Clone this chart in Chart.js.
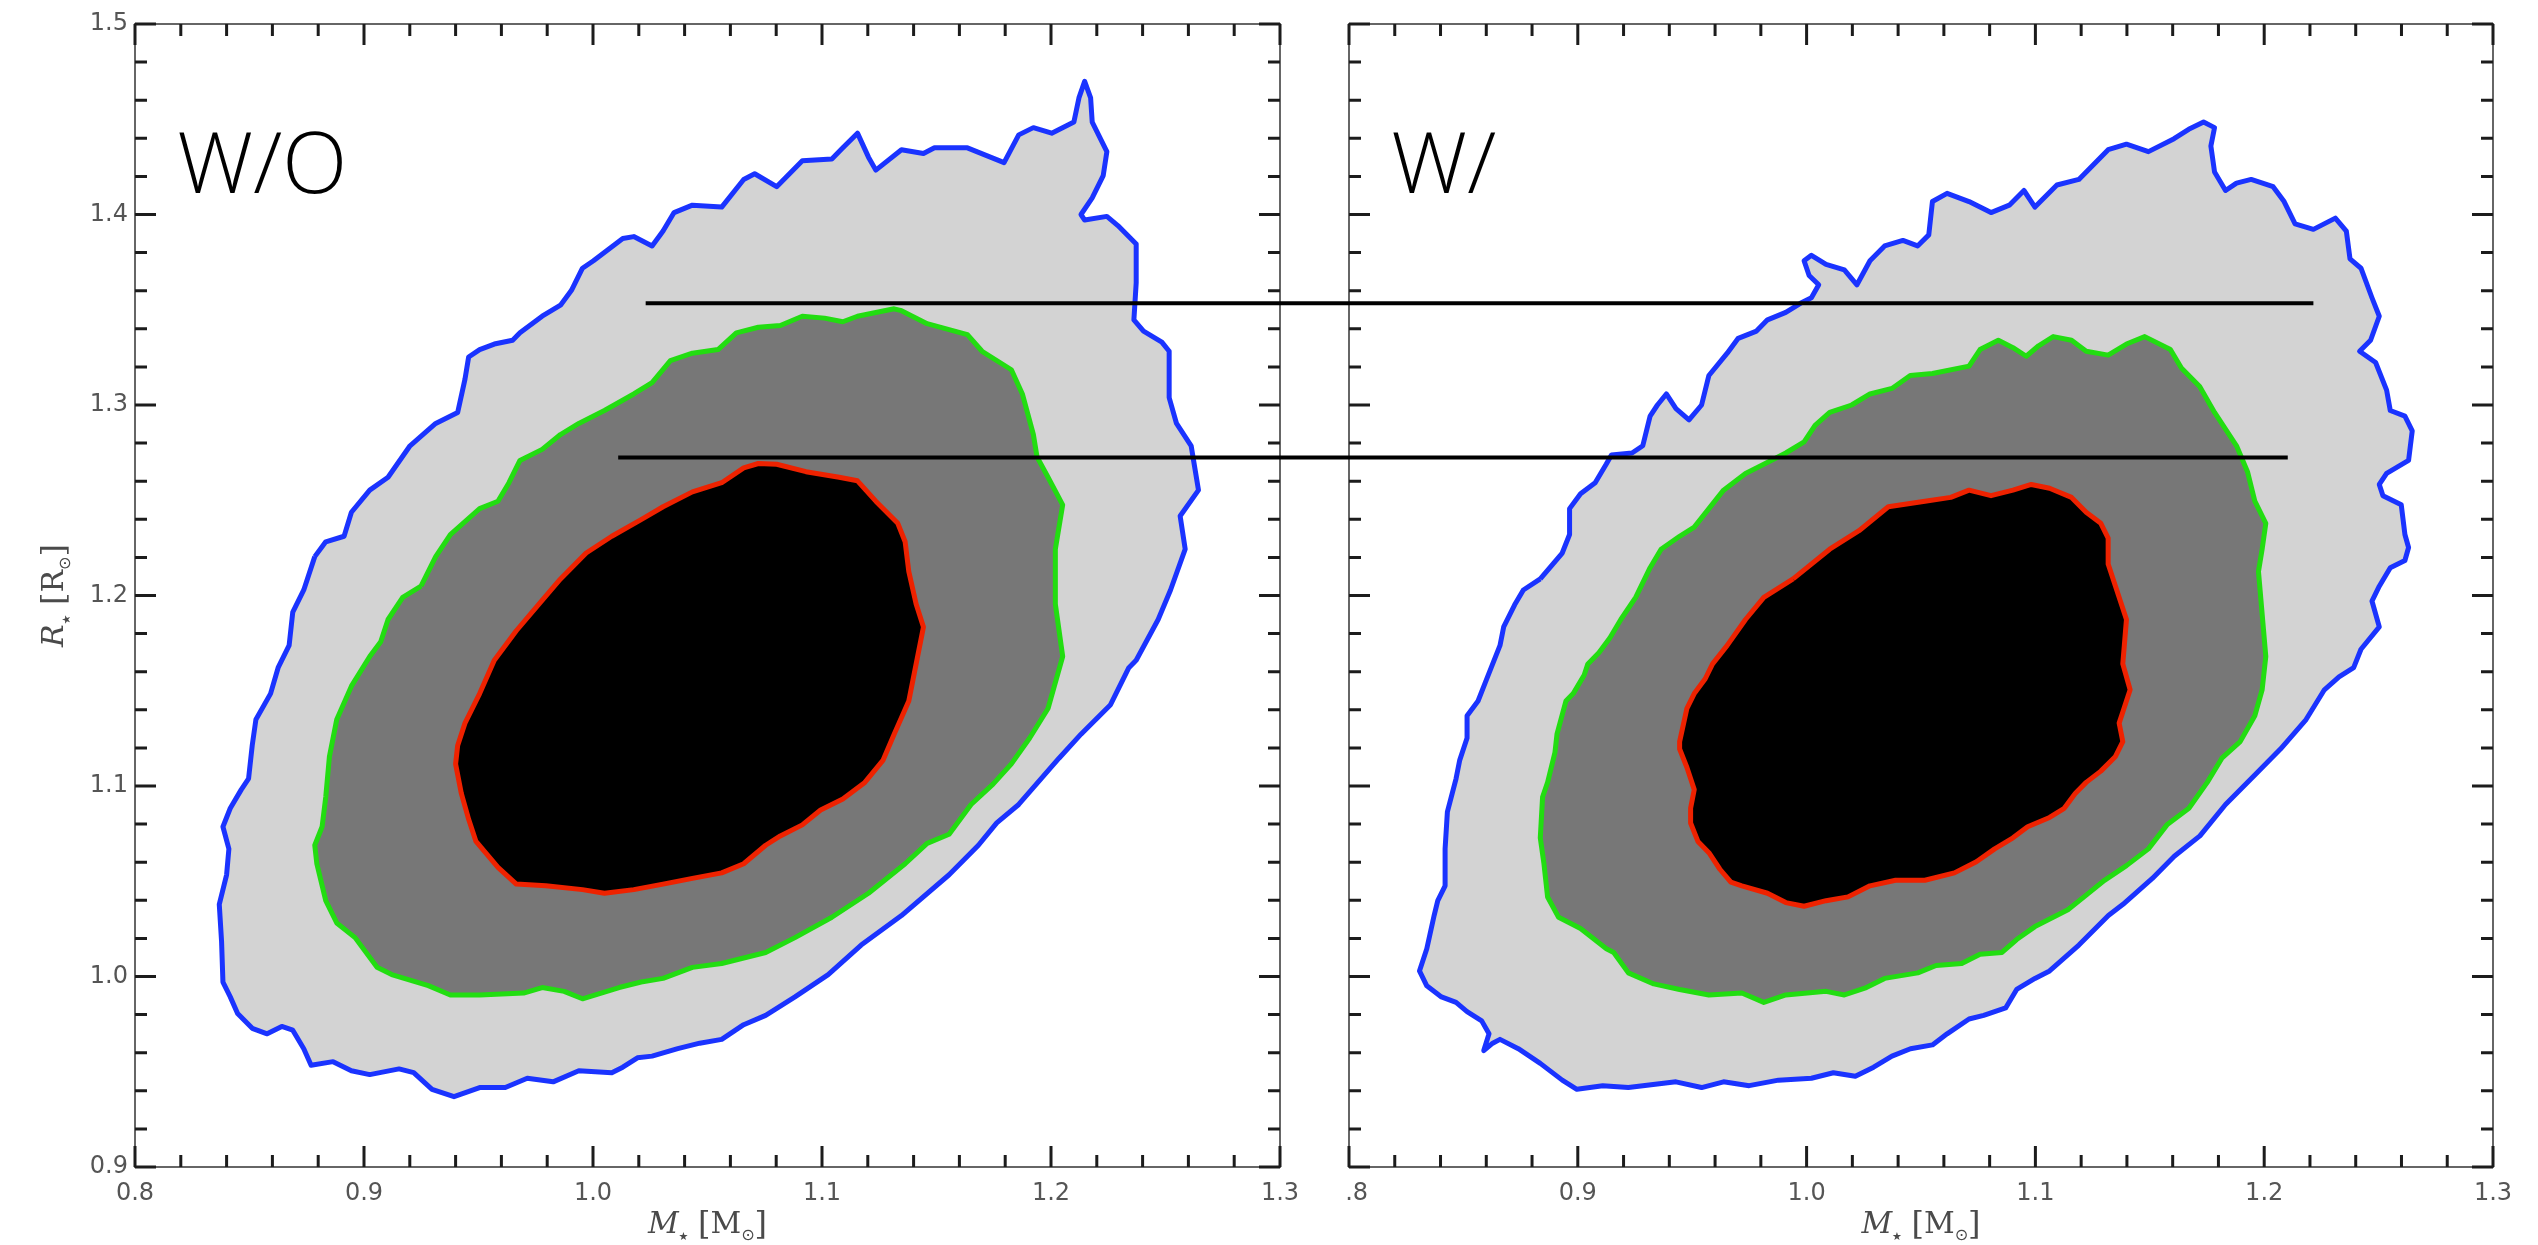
<!DOCTYPE html>
<html lang="en">
<head>
<meta charset="UTF-8">
<title>Stellar mass and radius, W/O and W/</title>
<script src="https://cdn.jsdelivr.net/npm/chart.js@4.4.1/dist/chart.umd.min.js"></script>
<style>
  html, body { margin: 0; padding: 0; background: #fff; }
  #wrap { position: relative; width: 2538px; height: 1245px; overflow: hidden; }
  canvas { position: absolute; top: 0; }
</style>
</head>
<body>
<div id="wrap">
  <canvas id="left" width="1345" height="1245" style="left:0"></canvas>
  <canvas id="right" width="1193" height="1245" style="left:1345px"></canvas>
</div>
<script>
// axis ranges and ticks (shared by both panels)
const xRange = [0.8, 1.3]
const yRange = [0.9, 1.5]
const majorStep = 0.1
const minorStep = 0.02
const panelLabels = ['W/O', 'W/']

// contour outlines as [M, R] pairs
const leftOuter = [[0.8785,1.2204],[0.8833,1.2282],[0.8913,1.2311],[0.8945,1.2437],[0.9025,1.2553],[0.9105,1.2621],[0.9201,1.2786],[0.9313,1.2903],[0.9409,1.2961],[0.9441,1.3136],[0.9457,1.3252],[0.9505,1.3291],[0.9569,1.3320],[0.9649,1.3340],[0.9681,1.3379],[0.9778,1.3466],[0.9858,1.3524],[0.9906,1.3602],[0.9954,1.3718],[1.0002,1.3757],[1.0130,1.3874],[1.0178,1.3884],[1.0258,1.3835],[1.0306,1.3913],[1.0354,1.4010],[1.0434,1.4049],[1.0562,1.4039],[1.0658,1.4184],[1.0706,1.4214],[1.0802,1.4146],[1.0914,1.4282],[1.1043,1.4291],[1.1091,1.4350],[1.1155,1.4427],[1.1203,1.4301],[1.1235,1.4233],[1.1347,1.4340],[1.1443,1.4320],[1.1491,1.4350],[1.1635,1.4350],[1.1795,1.4272],[1.1859,1.4418],[1.1923,1.4456],[1.2003,1.4427],[1.2100,1.4485],[1.2122,1.4612],[1.2147,1.4699],[1.2173,1.4612],[1.2180,1.4485],[1.2244,1.4330],[1.2228,1.4204],[1.2180,1.4087],[1.2131,1.4000],[1.2147,1.3971],[1.2244,1.3990],[1.2292,1.3942],[1.2372,1.3845],[1.2372,1.3641],[1.2362,1.3447],[1.2404,1.3388],[1.2484,1.3330],[1.2516,1.3282],[1.2516,1.3039],[1.2548,1.2903],[1.2612,1.2786],[1.2644,1.2553],[1.2564,1.2417],[1.2586,1.2243],[1.2522,1.2029],[1.2468,1.1874],[1.2372,1.1660],[1.2340,1.1621],[1.2260,1.1427],[1.2131,1.1272],[1.2035,1.1146],[1.1859,1.0903],[1.1763,1.0806],[1.1683,1.0689],[1.1555,1.0534],[1.1347,1.0320],[1.1171,1.0165],[1.1027,1.0010],[1.0882,0.9893],[1.0754,0.9796],[1.0658,0.9747],[1.0562,0.9670],[1.0466,0.9650],[1.0370,0.9621],[1.0258,0.9582],[1.0194,0.9573],[1.0130,0.9524],[1.0082,0.9495],[0.9938,0.9505],[0.9826,0.9447],[0.9713,0.9466],[0.9617,0.9417],[0.9505,0.9417],[0.9393,0.9369],[0.9297,0.9408],[0.9217,0.9495],[0.9153,0.9515],[0.9025,0.9485],[0.8945,0.9505],[0.8865,0.9553],[0.8769,0.9534],[0.8737,0.9621],[0.8689,0.9718],[0.8641,0.9738],[0.8577,0.9699],[0.8512,0.9728],[0.8448,0.9806],[0.8416,0.9893],[0.8384,0.9971],[0.8378,1.0184],[0.8368,1.0379],[0.8400,1.0534],[0.8410,1.0670],[0.8384,1.0786],[0.8416,1.0883],[0.8464,1.0981],[0.8496,1.1039],[0.8512,1.1214],[0.8528,1.1349],[0.8592,1.1485],[0.8625,1.1621],[0.8673,1.1738],[0.8689,1.1913],[0.8737,1.2029]]
const leftMiddle = [[0.9249,1.2049],[0.9313,1.2204],[0.9377,1.2320],[0.9505,1.2456],[0.9585,1.2495],[0.9633,1.2592],[0.9681,1.2709],[0.9778,1.2767],[0.9858,1.2845],[0.9938,1.2903],[1.0050,1.2971],[1.0178,1.3058],[1.0258,1.3117],[1.0338,1.3233],[1.0434,1.3272],[1.0546,1.3291],[1.0626,1.3379],[1.0722,1.3408],[1.0818,1.3417],[1.0914,1.3466],[1.1011,1.3456],[1.1091,1.3437],[1.1155,1.3466],[1.1315,1.3505],[1.1347,1.3495],[1.1459,1.3427],[1.1635,1.3369],[1.1699,1.3282],[1.1827,1.3185],[1.1875,1.3058],[1.1923,1.2845],[1.1939,1.2728],[1.1987,1.2621],[1.2051,1.2476],[1.2019,1.2243],[1.2019,1.1955],[1.2051,1.1680],[1.1987,1.1407],[1.1907,1.1252],[1.1827,1.1116],[1.1747,1.1010],[1.1651,1.0903],[1.1555,1.0747],[1.1459,1.0699],[1.1363,1.0592],[1.1203,1.0437],[1.1043,1.0311],[1.0882,1.0204],[1.0754,1.0126],[1.0562,1.0068],[1.0434,1.0048],[1.0306,0.9990],[1.0210,0.9971],[1.0114,0.9942],[0.9954,0.9883],[0.9874,0.9922],[0.9778,0.9942],[0.9697,0.9913],[0.9505,0.9903],[0.9377,0.9903],[0.9281,0.9952],[0.9121,1.0010],[0.9057,1.0048],[0.8961,1.0204],[0.8881,1.0281],[0.8833,1.0398],[0.8794,1.0592],[0.8785,1.0689],[0.8817,1.0786],[0.8833,1.0942],[0.8849,1.1155],[0.8881,1.1349],[0.8945,1.1524],[0.9025,1.1680],[0.9073,1.1757],[0.9105,1.1874],[0.9169,1.1990]]
const leftInner = [[0.9858,1.2087],[0.9970,1.2223],[1.0082,1.2311],[1.0210,1.2398],[1.0306,1.2466],[1.0434,1.2544],[1.0562,1.2592],[1.0658,1.2670],[1.0722,1.2693],[1.0802,1.2689],[1.0930,1.2650],[1.1075,1.2621],[1.1155,1.2602],[1.1235,1.2495],[1.1331,1.2379],[1.1363,1.2282],[1.1379,1.2126],[1.1411,1.1955],[1.1443,1.1835],[1.1411,1.1641],[1.1379,1.1446],[1.1315,1.1272],[1.1267,1.1136],[1.1187,1.1019],[1.1091,1.0932],[1.0994,1.0874],[1.0914,1.0796],[1.0818,1.0738],[1.0754,1.0689],[1.0658,1.0592],[1.0562,1.0544],[1.0434,1.0515],[1.0306,1.0485],[1.0178,1.0456],[1.0050,1.0437],[0.9954,1.0456],[0.9794,1.0476],[0.9665,1.0485],[0.9585,1.0573],[0.9489,1.0709],[0.9457,1.0825],[0.9425,1.0961],[0.9400,1.1116],[0.9409,1.1213],[0.9441,1.1330],[0.9505,1.1485],[0.9569,1.1660],[0.9665,1.1815],[0.9761,1.1951]]

const rightOuter = [[0.8836,1.2087],[0.8932,1.2223],[0.8964,1.2320],[0.8964,1.2456],[0.9012,1.2534],[0.9076,1.2592],[0.9124,1.2689],[0.9147,1.2738],[0.9237,1.2748],[0.9284,1.2786],[0.9316,1.2942],[0.9348,1.3000],[0.9387,1.3058],[0.9429,1.2981],[0.9486,1.2922],[0.9541,1.3000],[0.9573,1.3155],[0.9653,1.3272],[0.9701,1.3350],[0.9781,1.3388],[0.9829,1.3447],[0.9909,1.3486],[0.9973,1.3534],[1.0021,1.3563],[1.0053,1.3631],[1.0011,1.3680],[0.9989,1.3757],[1.0021,1.3786],[1.0085,1.3738],[1.0165,1.3709],[1.0220,1.3631],[1.0277,1.3757],[1.0341,1.3835],[1.0421,1.3864],[1.0485,1.3835],[1.0534,1.3893],[1.0550,1.4068],[1.0614,1.4111],[1.0710,1.4068],[1.0806,1.4010],[1.0886,1.4049],[1.0950,1.4126],[1.0998,1.4039],[1.1094,1.4155],[1.1190,1.4184],[1.1318,1.4340],[1.1398,1.4369],[1.1494,1.4330],[1.1606,1.4398],[1.1670,1.4447],[1.1735,1.4485],[1.1783,1.4456],[1.1767,1.4359],[1.1783,1.4223],[1.1831,1.4126],[1.1879,1.4165],[1.1943,1.4184],[1.2039,1.4146],[1.2087,1.4068],[1.2135,1.3951],[1.2215,1.3922],[1.2311,1.3981],[1.2359,1.3913],[1.2375,1.3767],[1.2423,1.3718],[1.2471,1.3563],[1.2503,1.3466],[1.2465,1.3340],[1.2417,1.3282],[1.2487,1.3223],[1.2535,1.3078],[1.2551,1.2971],[1.2615,1.2942],[1.2647,1.2864],[1.2631,1.2709],[1.2535,1.2641],[1.2503,1.2583],[1.2519,1.2524],[1.2599,1.2476],[1.2615,1.2320],[1.2631,1.2252],[1.2615,1.2184],[1.2551,1.2146],[1.2503,1.2049],[1.2471,1.1971],[1.2503,1.1835],[1.2423,1.1718],[1.2391,1.1621],[1.2327,1.1573],[1.2263,1.1505],[1.2183,1.1349],[1.2071,1.1194],[1.1959,1.1058],[1.1831,1.0903],[1.1719,1.0738],[1.1607,1.0631],[1.1511,1.0515],[1.1383,1.0379],[1.1319,1.0320],[1.1190,1.0165],[1.1062,1.0029],[1.0998,0.9990],[1.0918,0.9932],[1.0870,0.9835],[1.0774,0.9796],[1.0710,0.9777],[1.0614,0.9699],[1.0550,0.9641],[1.0454,0.9621],[1.0373,0.9582],[1.0293,0.9524],[1.0213,0.9476],[1.0117,0.9495],[1.0021,0.9466],[0.9877,0.9456],[0.9749,0.9427],[0.9637,0.9447],[0.9541,0.9417],[0.9429,0.9447],[0.9221,0.9417],[0.9109,0.9427],[0.8996,0.9408],[0.8932,0.9456],[0.8836,0.9544],[0.8740,0.9621],[0.8660,0.9670],[0.8628,0.9650],[0.8589,0.9611],[0.8612,0.9699],[0.8580,0.9767],[0.8516,0.9816],[0.8468,0.9864],[0.8404,0.9893],[0.8340,0.9951],[0.8308,1.0029],[0.8340,1.0146],[0.8372,1.0320],[0.8388,1.0398],[0.8420,1.0476],[0.8420,1.0670],[0.8430,1.0864],[0.8468,1.1039],[0.8484,1.1136],[0.8516,1.1252],[0.8516,1.1369],[0.8564,1.1446],[0.8596,1.1544],[0.8628,1.1641],[0.8660,1.1738],[0.8676,1.1835],[0.8724,1.1951],[0.8762,1.2029]]
const rightMiddle = [[0.9316,1.2146],[0.9364,1.2243],[0.9445,1.2311],[0.9509,1.2359],[0.9573,1.2456],[0.9637,1.2553],[0.9733,1.2641],[0.9813,1.2689],[0.9909,1.2748],[0.9989,1.2806],[1.0037,1.2893],[1.0101,1.2961],[1.0197,1.3000],[1.0277,1.3058],[1.0373,1.3087],[1.0453,1.3155],[1.0550,1.3165],[1.0710,1.3204],[1.0758,1.3291],[1.0838,1.3340],[1.0902,1.3301],[1.0960,1.3256],[1.1014,1.3311],[1.1078,1.3359],[1.1158,1.3340],[1.1222,1.3282],[1.1318,1.3262],[1.1398,1.3320],[1.1478,1.3359],[1.1590,1.3291],[1.1638,1.3194],[1.1718,1.3097],[1.1783,1.2961],[1.1879,1.2786],[1.1927,1.2650],[1.1959,1.2495],[1.2007,1.2379],[1.1991,1.2243],[1.1975,1.2126],[1.1988,1.1945],[1.2007,1.1680],[1.1991,1.1505],[1.1959,1.1369],[1.1895,1.1233],[1.1815,1.1146],[1.1751,1.1019],[1.1671,1.0883],[1.1575,1.0796],[1.1494,1.0670],[1.1398,1.0582],[1.1302,1.0505],[1.1222,1.0427],[1.1142,1.0350],[1.0998,1.0262],[1.0918,1.0194],[1.0854,1.0126],[1.0758,1.0117],[1.0678,1.0068],[1.0566,1.0058],[1.0486,1.0019],[1.0341,0.9990],[1.0261,0.9942],[1.0165,0.9903],[1.0085,0.9922],[0.9909,0.9903],[0.9813,0.9864],[0.9717,0.9913],[0.9573,0.9903],[0.9445,0.9932],[0.9332,0.9961],[0.9221,1.0019],[0.9157,1.0126],[0.9125,1.0146],[0.9012,1.0252],[0.8916,1.0311],[0.8868,1.0417],[0.8852,1.0592],[0.8836,1.0728],[0.8846,1.0942],[0.8868,1.1019],[0.8900,1.1175],[0.8909,1.1272],[0.8948,1.1446],[0.8980,1.1485],[0.9028,1.1583],[0.9044,1.1641],[0.9092,1.1699],[0.9140,1.1777],[0.9188,1.1874],[0.9253,1.1990]]
const rightInner = [[0.9941,1.2087],[1.0101,1.2243],[1.0229,1.2340],[1.0357,1.2466],[1.0517,1.2495],[1.0630,1.2515],[1.0710,1.2553],[1.0806,1.2524],[1.0902,1.2553],[1.0982,1.2583],[1.1062,1.2563],[1.1158,1.2515],[1.1222,1.2437],[1.1286,1.2379],[1.1318,1.2301],[1.1318,1.2165],[1.1350,1.2049],[1.1398,1.1874],[1.1382,1.1641],[1.1414,1.1505],[1.1382,1.1388],[1.1366,1.1330],[1.1382,1.1233],[1.1350,1.1155],[1.1286,1.1078],[1.1222,1.1019],[1.1174,1.0961],[1.1126,1.0883],[1.1062,1.0835],[1.0966,1.0786],[1.0902,1.0728],[1.0822,1.0670],[1.0742,1.0602],[1.0646,1.0544],[1.0517,1.0505],[1.0389,1.0505],[1.0277,1.0476],[1.0181,1.0418],[1.0085,1.0398],[0.9989,1.0369],[0.9909,1.0388],[0.9829,1.0437],[0.9717,1.0476],[0.9669,1.0495],[0.9621,1.0563],[0.9573,1.0650],[0.9525,1.0709],[0.9493,1.0806],[0.9493,1.0883],[0.9509,1.0981],[0.9477,1.1097],[0.9445,1.1194],[0.9445,1.1233],[0.9477,1.1408],[0.9509,1.1485],[0.9557,1.1563],[0.9589,1.1641],[0.9653,1.1738],[0.9733,1.1874],[0.9813,1.1990]]
const rightSpeck = [[1.2333, 1.3831]]

// the two horizontal reference lines running from the W/O panel into the W/ panel
const refLineR = [1.3534, 1.2724]
const refLineStartWO = [1.023, 1.011]
const refLineEndW = [1.2215, 1.2103]

const fillColors = ['#000000', '#777777', '#d3d3d3']
const edgeColors = ['#ee2200', '#22dd11', '#1a33ff']

function contour(points, level) {
  return {
    data: points.concat([points[0]]),
    backgroundColor: fillColors[level],
    borderColor: edgeColors[level],
    borderWidth: 5,
    borderJoinStyle: 'round',
    fill: 'shape',
    pointRadius: 0,
    tension: 0
  }
}

function refLine(r, from, to) {
  return {
    data: [[from, r], [to, r]],
    borderColor: '#000',
    borderWidth: 4,
    pointRadius: 0,
    fill: false,
    clip: false
  }
}

function drawMath(ctx, parts, cx, cy, rotate) {
  ctx.save()
  ctx.translate(cx, cy)
  if (rotate) ctx.rotate(-Math.PI / 2)
  ctx.fillStyle = '#4a4a4a'
  ctx.textBaseline = 'alphabetic'
  let w = 0
  for (const p of parts) { ctx.font = p[1]; w += ctx.measureText(p[0]).width }
  let x = -w / 2
  for (const p of parts) {
    ctx.font = p[1]
    ctx.fillText(p[0], x, p[2])
    x += ctx.measureText(p[0]).width
  }
  ctx.restore()
}

const serif = '"DejaVu Serif"'
const mLabel = [['M', 'italic 30px ' + serif, 0], ['\u2605', '11px "DejaVu Sans"', 7], [' ', '30px ' + serif, 0],
  ['[', '32px ' + serif, 1], ['M', '30px ' + serif, 0], ['\u2299', '16px "DejaVu Sans"', 7], [']', '32px ' + serif, 1]]
const rLabel = [['R', 'italic 30px ' + serif, 0], ['\u2605', '11px "DejaVu Sans"', 7], [' ', '30px ' + serif, 0],
  ['[', '32px ' + serif, 1], ['R', '30px ' + serif, 0], ['\u2299', '16px "DejaVu Sans"', 7], [']', '32px ' + serif, 1]]

// inward ticks on all four sides, frame, panel label and axis titles
const frame = {
  id: 'frame',
  beforeDatasetsDraw(chart) {
    const {ctx, chartArea: a, scales: {x, y}} = chart
    ctx.save()
    ctx.strokeStyle = '#666'
    ctx.lineWidth = 2
    ctx.strokeRect(a.left, a.top, a.right - a.left, a.bottom - a.top)
    ctx.strokeStyle = '#1c1c1c'
    ctx.lineWidth = 3
    ctx.beginPath()
    const every = Math.round(majorStep / minorStep)
    const nx = Math.round((xRange[1] - xRange[0]) / minorStep)
    for (let i = 0; i <= nx; i++) {
      const px = x.getPixelForValue(xRange[0] + i * minorStep)
      const len = i % every === 0 ? 21 : 12
      ctx.moveTo(px, a.bottom); ctx.lineTo(px, a.bottom - len)
      ctx.moveTo(px, a.top); ctx.lineTo(px, a.top + len)
    }
    const ny = Math.round((yRange[1] - yRange[0]) / minorStep)
    for (let i = 0; i <= ny; i++) {
      const py = y.getPixelForValue(yRange[0] + i * minorStep)
      const len = i % every === 0 ? 21 : 12
      ctx.moveTo(a.left, py); ctx.lineTo(a.left + len, py)
      ctx.moveTo(a.right, py); ctx.lineTo(a.right - len, py)
    }
    ctx.stroke()
    ctx.restore()
  },
  afterDraw(chart, args, opts) {
    const {ctx, chartArea: a, scales: {x, y}} = chart
    ctx.save()
    ctx.fillStyle = '#000'
    ctx.font = '300 85px "Open Sans"'
    ctx.textBaseline = 'alphabetic'
    ctx.fillText(opts.label, x.getPixelForValue(0.8185), y.getPixelForValue(1.4113))
    ctx.restore()
    drawMath(ctx, mLabel, (a.left + a.right) / 2, 1233, false)
    if (opts.yTitle) drawMath(ctx, rLabel, 63, (a.top + a.bottom) / 2, true)
  }
}

function panel(id, label, outer, middle, inner, lines, extra, opts) {
  const datasets = lines.concat([contour(inner, 0), contour(middle, 1), contour(outer, 2)], extra)
  return new Chart(document.getElementById(id), {
    type: 'line',
    data: { datasets },
    options: {
      responsive: false,
      animation: false,
      events: [],
      layout: { padding: opts.padding },
      plugins: {
        legend: { display: false },
        tooltip: { enabled: false },
        frame: { label, yTitle: opts.yTitle }
      },
      scales: {
        x: {
          type: 'linear', min: xRange[0], max: xRange[1],
          grid: { display: false, drawTicks: false },
          border: { display: false },
          ticks: {
            stepSize: majorStep, padding: 12, color: '#555', maxRotation: 0, autoSkip: false,
            font: { family: 'DejaVu Sans', size: 24 },
            callback: v => v.toFixed(1)
          },
          afterFit: s => { s.height = 78; s.paddingLeft = 0; s.paddingRight = 0 }
        },
        y: {
          type: 'linear', min: yRange[0], max: yRange[1], display: opts.yTitle,
          grid: { display: false, drawTicks: false },
          border: { display: false },
          ticks: {
            stepSize: majorStep, padding: 7, color: '#555', autoSkip: false,
            font: { family: 'DejaVu Sans', size: 24 },
            callback: v => v.toFixed(1)
          },
          afterFit: s => {
            s.width = opts.yTitle ? 135 : 0
            s.paddingTop = 0
            s.paddingBottom = 0
          }
        }
      }
    },
    plugins: [frame]
  })
}

// lines leave the W/O panel to the right and enter the W/ panel from the left
const linesWO = refLineR.map((r, i) => refLine(r, refLineStartWO[i], 1.36))
const linesW = refLineR.map((r, i) => refLine(r, 0.75, refLineEndW[i]))
const speck = {
  data: rightSpeck, showLine: false, pointRadius: 3, pointBorderWidth: 0,
  pointBackgroundColor: edgeColors[2], borderColor: edgeColors[2], fill: false
}

panel('left', panelLabels[0], leftOuter, leftMiddle, leftInner, linesWO, [],
  { padding: { left: 0, right: 65, top: 24, bottom: 0 }, yTitle: true })
panel('right', panelLabels[1], rightOuter, rightMiddle, rightInner, linesW, [speck],
  { padding: { left: 3, right: 45, top: 24, bottom: 0 }, yTitle: false })
</script>
</body>
</html>
